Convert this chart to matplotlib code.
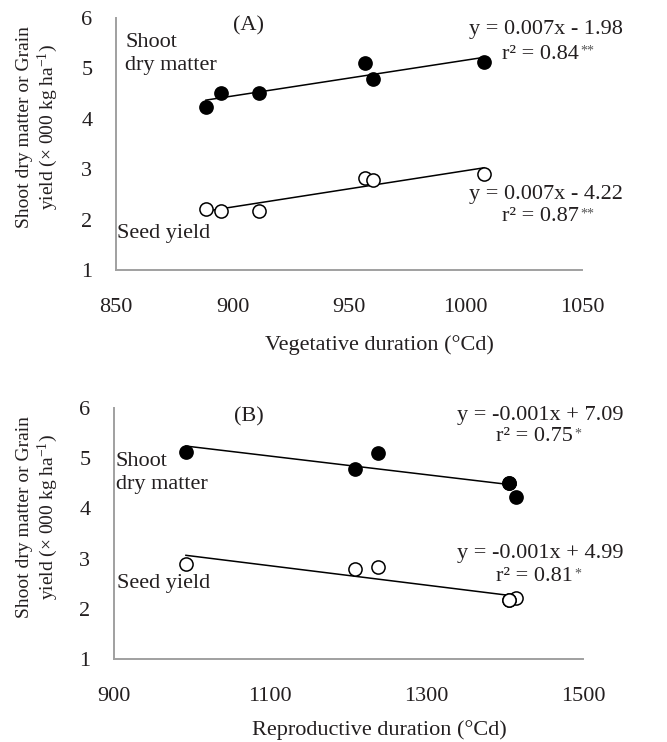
import numpy as np
import matplotlib
matplotlib.use("Agg")
import matplotlib.pyplot as plt

plt.rcParams['font.family'] = ['Liberation Serif', 'DejaVu Serif']
plt.rcParams['font.size'] = 16
plt.rcParams['mathtext.fontset'] = 'custom'
plt.rcParams['mathtext.rm'] = 'Liberation Serif'
plt.rcParams['mathtext.it'] = 'Liberation Serif:italic'

# values
veg_dur = [888.6, 895, 911.5, 957, 960.5, 1008]
rep_dur = [1414, 1405.5, 1405.5, 1237.6, 1208.6, 992]
shoot_dm = [4.23, 4.51, 4.51, 5.11, 4.79, 5.13]
seed_yld = [2.21, 2.18, 2.18, 2.83, 2.79, 2.90]

eq_a = ["y = 0.007x - 1.98", "r² = 0.84", "**",
        "y = 0.007x - 4.22", "r² = 0.87", "**"]
eq_b = ["y = -0.001x + 7.09", "r² = 0.75", "*",
        "y = -0.001x + 4.99", "r² = 0.81", "*"]

txt_col = '#231f20'
spine_col = '#a0a0a0'

fig = plt.figure(figsize=(6.67, 7.42), dpi=100)
ax1 = fig.add_axes([116/667, 1-270/742, 466/667, 252/742])
ax2 = fig.add_axes([114/667, 1-659/742, 469/667, 251/742])


def panel(ax, x, xlim, xticks, eqs, lab, lab_xy, shoot_xy, seed_xy, eq_pos):
    x = np.array(x)
    for y, fc in [(shoot_dm, 'black'), (seed_yld, 'white')]:
        y = np.array(y)
        k, b = np.polyfit(x, y, 1)
        xs = np.array([x.min(), x.max()])
        ax.plot(xs, k*xs + b, color='black', lw=1.1, zorder=2)
        ax.scatter(x, y, s=90, facecolor=fc, edgecolor='black',
                   linewidth=1.1, zorder=3)
    ax.set_xlim(xlim)
    ax.set_ylim(1, 6)
    ax.set_xticks(xticks)
    ax.set_yticks(range(1, 7))
    ax.tick_params(length=0, colors=txt_col)
    ax.tick_params(axis='y', pad=17)
    ax.tick_params(axis='x', pad=20)
    for s in ['top', 'right']:
        ax.spines[s].set_visible(False)
    for s in ['left', 'bottom']:
        ax.spines[s].set_color(spine_col)
        ax.spines[s].set_linewidth(1.4)
    ax.text(lab_xy[0], lab_xy[1], lab, ha='center', va='center', color=txt_col)
    ax.text(shoot_xy[0], shoot_xy[1], "Shoot\ndry matter", ha='left', va='center',
            color=txt_col, linespacing=1.3)
    ax.text(seed_xy[0], seed_xy[1], "Seed yield", ha='left', va='center',
            color=txt_col)
    for i, (ex, ey1, ey2) in enumerate(eq_pos):
        ax.text(ex, ey1, eqs[3*i], ha='center', va='center', color=txt_col)
        t = ax.text(ex - (xlim[1]-xlim[0])*0.012, ey2, eqs[3*i+1], ha='center',
                    va='center', color=txt_col)
        ax.annotate(eqs[3*i+2], xy=(1, 1), xycoords=t, xytext=(1, 0),
                    textcoords='offset points', ha='left', va='top',
                    fontsize=10, color='#555555')


panel(ax1, veg_dur, (850, 1050), [850, 900, 950, 1000, 1050], eq_a, "(A)",
      (907, 5.84), (854, 5.28), (850.5, 1.73),
      [(1034.5, 5.78, 5.28), (1034.5, 2.5, 2.06)])
panel(ax2, rep_dur, (900, 1500), [900, 1100, 1300, 1500], eq_b, "(B)",
      (1072, 5.83), (902, 4.71), (904, 2.51),
      [(1445, 5.86, 5.43), (1445, 3.1, 2.64)])

ylab = "Shoot dry matter or Grain\nyield (× 000 kg ha$^{-1}$)"
for yc in [127, 517]:
    fig.text(38/667, 1-yc/742, ylab, rotation=90, ha='center', va='center',
             multialignment='center', color=txt_col, linespacing=1.15,
             fontsize=14)
fig.text(379/667, 1-345/742, "Vegetative duration (°Cd)", ha='center',
         va='center', color=txt_col)
fig.text(379/667, 1-730/742, "Reproductive duration (°Cd)", ha='center',
         va='center', color=txt_col)

fig.savefig("out.png", dpi=100)
